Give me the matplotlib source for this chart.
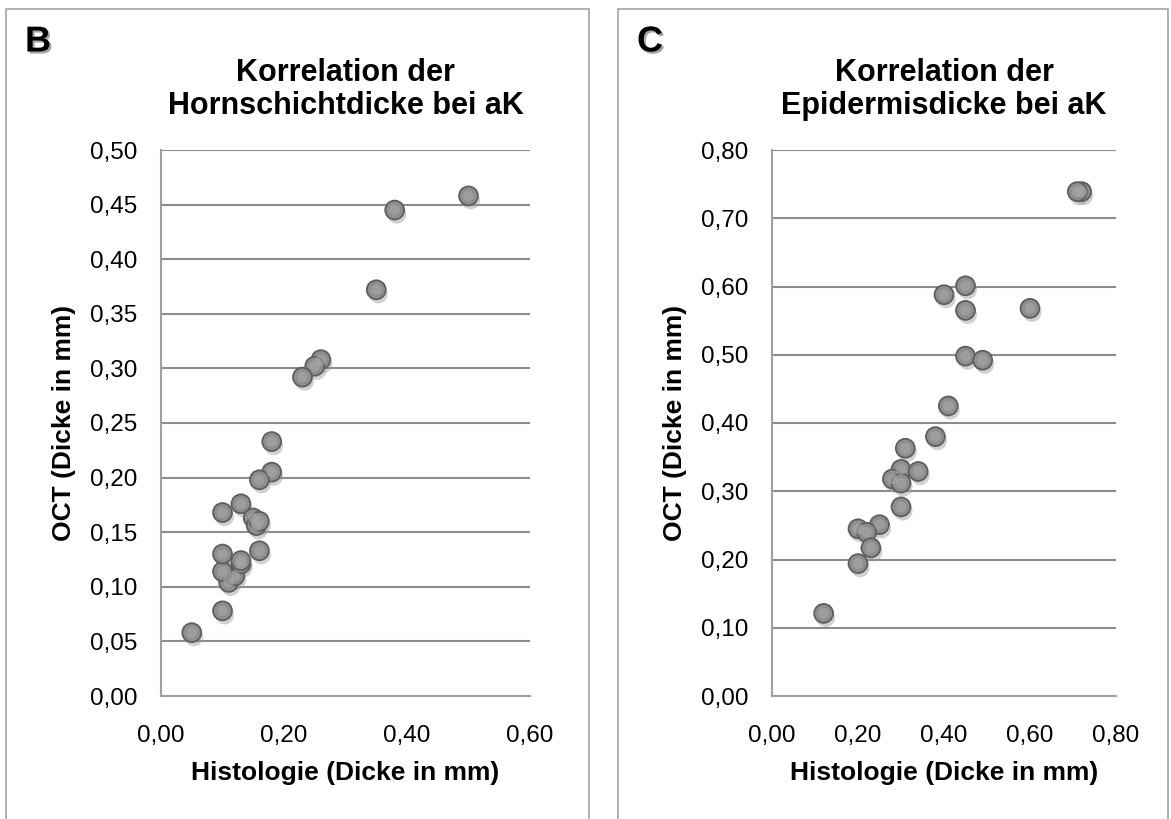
import matplotlib
matplotlib.use("Agg")
import matplotlib.pyplot as plt
import matplotlib.patheffects as pe
from matplotlib.patches import Rectangle
from matplotlib.ticker import FuncFormatter

plt.rcParams['font.family'] = ['Liberation Sans', 'DejaVu Sans']

# Panel B: Hornschichtdicke
b_hist = [0.05, 0.10, 0.11, 0.12, 0.10, 0.13, 0.13, 0.10, 0.16, 0.10, 0.13,
          0.15, 0.155, 0.16, 0.18, 0.16, 0.18, 0.50, 0.38, 0.35, 0.26, 0.25, 0.23]
b_oct = [0.058, 0.078, 0.104, 0.110, 0.114, 0.121, 0.124, 0.130, 0.133, 0.168, 0.176,
         0.163, 0.156, 0.160, 0.205, 0.198, 0.233, 0.458, 0.445, 0.372, 0.308, 0.302, 0.292]

# Panel C: Epidermisdicke
c_hist = [0.45, 0.40, 0.45, 0.45, 0.49, 0.41, 0.38, 0.31, 0.30, 0.34, 0.28,
          0.30, 0.30, 0.20, 0.25, 0.22, 0.23, 0.20, 0.12, 0.72, 0.71, 0.60]
c_oct = [0.601, 0.588, 0.565, 0.498, 0.492, 0.425, 0.380, 0.363, 0.332, 0.329, 0.318,
         0.312, 0.277, 0.245, 0.251, 0.240, 0.217, 0.194, 0.121, 0.739, 0.739, 0.568]

b_yticks = [0.00, 0.05, 0.10, 0.15, 0.20, 0.25, 0.30, 0.35, 0.40, 0.45, 0.50]
b_xticks = [0.00, 0.20, 0.40, 0.60]
c_yticks = [0.00, 0.10, 0.20, 0.30, 0.40, 0.50, 0.60, 0.70, 0.80]
c_xticks = [0.00, 0.20, 0.40, 0.60, 0.80]

W, H = 1171, 819
fig = plt.figure(figsize=(W / 100, H / 100), dpi=100)

# panel frames
for x0, x1 in [(6, 589), (618, 1168)]:
    fig.add_artist(Rectangle((x0 / W, -0.05), (x1 - x0) / W, (H - 9) / H + 0.05,
                             transform=fig.transFigure, fill=False,
                             edgecolor='#a9a9a9', linewidth=1.3))

comma = FuncFormatter(lambda v, p: f"{v:.2f}".replace('.', ','))


def panel(rect, xs, ys, xticks, yticks, title, letter, letter_x):
    ax = fig.add_axes(rect)
    ax.scatter(xs, ys, s=185, facecolor='#8e8e8e', edgecolor='#5e5e5e',
               linewidth=1.3, zorder=3,
               path_effects=[pe.SimplePatchShadow(offset=(1.5, -3), shadow_rgbFace='#9a9a9a', alpha=0.45),
                             pe.Normal()])
    # subtle highlight for the glossy look
    ax.scatter(xs, ys, s=60, facecolor='#a8a8a8', edgecolor='none', zorder=4, alpha=0.6)
    ax.set_xlim(xticks[0], xticks[-1])
    ax.set_ylim(yticks[0], yticks[-1])
    ax.set_xticks(xticks)
    ax.set_yticks(yticks)
    ax.xaxis.set_major_formatter(comma)
    ax.yaxis.set_major_formatter(comma)
    ax.tick_params(length=0, labelsize=17.5)
    ax.tick_params(axis='x', pad=21)
    ax.tick_params(axis='y', pad=17)
    ax.grid(axis='y', color='#8c8c8c', linewidth=1.5, zorder=0)
    ax.set_axisbelow(True)
    for s in ['top', 'right']:
        ax.spines[s].set_visible(False)
    for s in ['left', 'bottom']:
        ax.spines[s].set_color('#a0a0a0')
        ax.spines[s].set_linewidth(1.5)
    ax.set_title(title, fontsize=22, fontweight='bold', pad=26, linespacing=1.12)
    ax.set_xlabel('Histologie (Dicke in mm)', fontsize=19, fontweight='bold', labelpad=10)
    ax.set_ylabel('OCT (Dicke in mm)', fontsize=19, fontweight='bold', labelpad=10)
    fig.text(letter_x / W, 1 - 42 / H, letter, fontsize=26, fontweight='bold',
             ha='center', va='center',
             path_effects=[pe.SimplePatchShadow(offset=(1.5, -1.5), alpha=0.35), pe.Normal()])
    return ax


bot = (H - 696) / H
hgt = (696 - 150) / H
panel([161 / W, bot, (530 - 161) / W, hgt], b_hist, b_oct, b_xticks, b_yticks,
      'Korrelation der\nHornschichtdicke bei aK', 'B', 38)
panel([772 / W, bot, (1116 - 772) / W, hgt], c_hist, c_oct, c_xticks, c_yticks,
      'Korrelation der\nEpidermisdicke bei aK', 'C', 650)

fig.savefig('out.png', dpi=100)
